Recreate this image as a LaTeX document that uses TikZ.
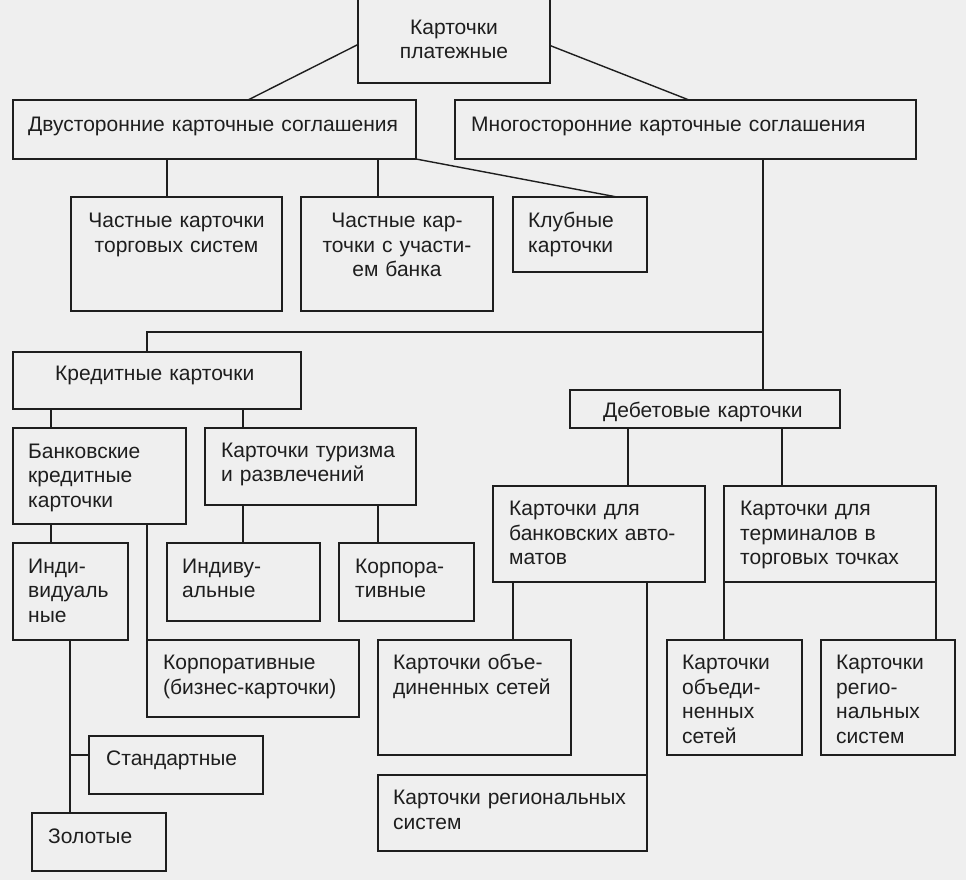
\documentclass[tikz,border=0pt]{standalone}
\usepackage{fontspec}
\setmainfont{Liberation Sans}
\definecolor{bg}{RGB}{239,239,239}
\definecolor{ink}{RGB}{30,30,30}
\newcommand\mkbox[5]{\node[box,minimum width={#4pt-#2pt},minimum height={#5pt-#3pt}] (#1) at ({(#2+#4)/2},{(#3+#5)/2}) {};}
\begin{document}
\begin{tikzpicture}[x=1pt,y=-1pt,
  box/.style={draw=ink,line width=1.4pt,rectangle,inner sep=0pt,outer sep=0pt},
  conn/.style={draw=ink,line width=1.4pt},
  txt/.style={font=\fontsize{21}{24.5}\selectfont,text=ink,inner sep=0pt,anchor=base west,text width=520pt,align=left},
  ctxt/.style={font=\fontsize{21}{24.5}\selectfont,text=ink,inner sep=0pt,anchor=base,text width=220pt,align=center}]
\fill[bg] (0,0) rectangle (966,880);
\useasboundingbox (0,0) rectangle (966,880);
% boxes
\mkbox{top}{358}{-4}{550}{83}
\mkbox{dvu}{13}{100}{416}{159}
\mkbox{mno}{455}{100}{916}{159}
\mkbox{ch1}{71}{197}{282}{311}
\mkbox{ch2}{301}{197}{493}{311}
\mkbox{klub}{513}{197}{647}{272}
\mkbox{kred}{13}{352}{301}{409}
\mkbox{deb}{570}{390}{840}{428}
\mkbox{bank}{13}{428}{186}{524}
\mkbox{tur}{205}{428}{416}{505}
\mkbox{ind}{13}{543}{128}{640}
\mkbox{indb}{167}{543}{320}{621}
\mkbox{korp}{339}{543}{474}{621}
\mkbox{korpb}{147}{640}{359}{717}
\mkbox{std}{89}{736}{263}{794}
\mkbox{zol}{32}{813}{166}{871}
\mkbox{bav}{493}{486}{705}{582}
\mkbox{term}{724}{486}{936}{582}
\mkbox{obsa}{378}{640}{571}{755}
\mkbox{rega}{378}{775}{647}{851}
\mkbox{obsb}{667}{640}{802}{755}
\mkbox{regb}{821}{640}{955}{755}
% texts
\node[ctxt] (t-top) at (454,34.5) {Карточки\\платежные};
\node[txt] (t-dvu) at (28,131.5) {Двусторонние карточные соглашения};
\node[txt] (t-mno) at (471,131.5) {Многосторонние карточные соглашения};
\node[ctxt] (t-ch1) at (176.5,227.5) {Частные карточки\\торговых систем};
\node[ctxt] (t-ch2) at (397,227.5) {Частные кар-\\точки с участи-\\ем банка};
\node[txt] (t-klub) at (528,227.5) {Клубные\\карточки};
\node[txt] (t-kred) at (55,380.5) {Кредитные карточки};
\node[txt] (t-deb) at (603,417.5) {Дебетовые карточки};
\node[txt] (t-bank) at (28,458) {Банковские\\кредитные\\карточки};
\node[txt] (t-tur) at (221,457) {Карточки туризма\\и развлечений};
\node[txt] (t-ind) at (28,573) {Инди-\\видуаль\\ные};
\node[txt] (t-indb) at (182,573) {Индиву-\\альные};
\node[txt] (t-korp) at (355,573) {Корпора-\\тивные};
\node[txt] (t-korpb) at (163,669.5) {Корпоративные\\(бизнес-карточки)};
\node[txt] (t-std) at (106,765.5) {Стандартные};
\node[txt] (t-zol) at (48,843) {Золотые};
\node[txt] (t-bav) at (509,515.5) {Карточки для\\банковских авто-\\матов};
\node[txt] (t-term) at (740,515.5) {Карточки для\\терминалов в\\торговых точках};
\node[txt] (t-obsa) at (393,669.5) {Карточки объе-\\диненных сетей};
\node[txt] (t-rega) at (393,804.5) {Карточки региональных\\систем};
\node[txt] (t-obsb) at (682,669.5) {Карточки\\объеди-\\ненных\\сетей};
\node[txt] (t-regb) at (836,669.5) {Карточки\\регио-\\нальных\\систем};
% guide coordinates
\coordinate (x167) at (167,0);
\coordinate (x378) at (378,0);
\coordinate (x617) at (617,0);
\coordinate (x763) at (763,0);
\coordinate (j1) at (147,332);
\coordinate (x51) at (51,0);
\coordinate (x243) at (243,0);
\coordinate (x147) at (147,0);
\coordinate (x70) at (70,0);
\coordinate (x628) at (628,0);
\coordinate (x782) at (782,0);
\coordinate (x513) at (513,0);
\coordinate (x647) at (647,0);
\coordinate (x248) at (248,0);
\coordinate (x689) at (689,0);
% connectors
\draw[conn] ([yshift=-5pt]top.west) -- (dvu.north -| x248);
\draw[conn] ([yshift=-6pt]top.east) -- (mno.north -| x689);
\draw[conn] (dvu.south -| x167) -- (ch1.north -| x167);
\draw[conn] (dvu.south -| x378) -- (ch2.north -| x378);
\draw[conn] (dvu.south east) -- (klub.north -| x617);
\draw[conn] (mno.south -| x763) -- (deb.north -| x763);
\draw[conn] (j1 -| x763) -- (j1) -- (kred.north -| j1);
\draw[conn] (kred.south -| x51) -- (bank.north -| x51);
\draw[conn] (kred.south -| x243) -- (tur.north -| x243);
\draw[conn] (bank.south -| x51) -- (ind.north -| x51);
\draw[conn] (bank.south -| x147) -- (korpb.north west);
\draw[conn] (tur.south -| x243) -- (indb.north -| x243);
\draw[conn] (tur.south -| x378) -- (korp.north -| x378);
\draw[conn] (ind.south -| x70) -- (zol.north -| x70);
\draw[conn] ([yshift=10pt]std.west -| x70) -- ([yshift=10pt]std.west);
\draw[conn] (deb.south -| x628) -- (bav.north -| x628);
\draw[conn] (deb.south -| x782) -- (term.north -| x782);
\draw[conn] (bav.south -| x513) -- (obsa.north -| x513);
\draw[conn] (bav.south -| x647) -- (rega.north east);
\draw[conn] (term.south west) -- (obsb.north -| term.south west);
\draw[conn] (term.south east) -- (regb.north -| term.south east);
\end{tikzpicture}
\end{document}
